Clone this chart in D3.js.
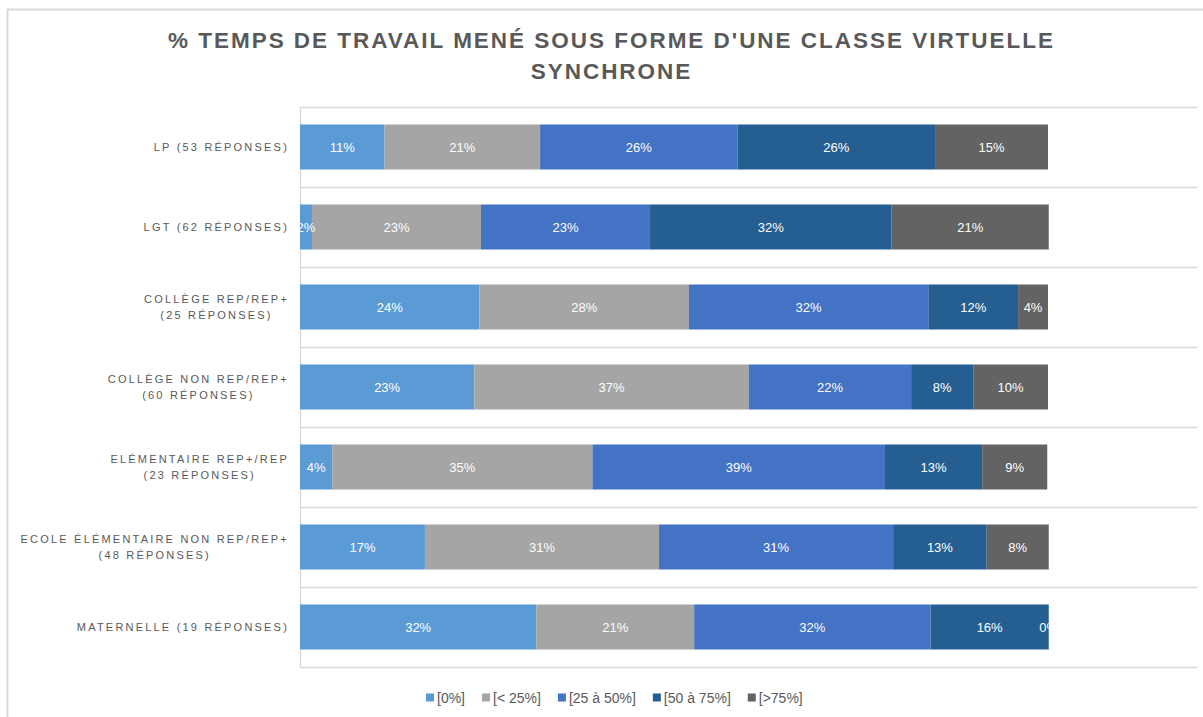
<!DOCTYPE html>
<html>
<head>
<meta charset="utf-8">
<script src="https://cdn.jsdelivr.net/npm/d3@7"></script>
<style>
  html, body { margin: 0; padding: 0; background: #fff; }
  svg { display: block; }
</style>
</head>
<body>
<svg id="chart" width="1203" height="717"></svg>
<script>
// ---- Data ----
const categories = [
  "LP (53 RÉPONSES)",
  "LGT (62 RÉPONSES)",
  "COLLÈGE REP/REP+\n(25 RÉPONSES)",
  "COLLÈGE NON REP/REP+\n(60 RÉPONSES)",
  "ELÉMENTAIRE REP+/REP\n(23 RÉPONSES)",
  "ECOLE ÉLÉMENTAIRE NON REP/REP+\n(48 RÉPONSES)",
  "MATERNELLE (19 RÉPONSES)"
];
const seriesNames = ["[0%]", "[< 25%]", "[25 à 50%]", "[50 à 75%]", "[>75%]"];
const seriesColors = ["#5B9BD5", "#A5A5A5", "#4472C4", "#255E91", "#636363"];
const val0   = [11.3, 1.6, 24, 23.3, 4.3, 16.7, 31.6];
const valLt25 = [20.8, 22.6, 28, 36.7, 34.8, 31.3, 21.1];
const val25_50 = [26.4, 22.6, 32, 21.7, 39.1, 31.3, 31.6];
const val50_75 = [26.4, 32.3, 12, 8.3, 13.0, 12.5, 15.8];
const valGt75 = [15.1, 21.0, 4, 10.0, 8.7, 8.3, 0];
const xMax = 120;
const titleLines = ["% TEMPS DE TRAVAIL MENÉ SOUS FORME D'UNE CLASSE VIRTUELLE", "SYNCHRONE"];

// ---- Build table ----
const seriesValues = [val0, valLt25, val25_50, val50_75, valGt75];
const table = categories.map((c, i) => {
  const row = { cat: c };
  seriesNames.forEach((s, j) => row[s] = seriesValues[j][i]);
  return row;
});
const stacked = d3.stack().keys(seriesNames)(table);

const svg = d3.select("#chart");
const plotL = 300, plotT = 107, plotB = 667;
const x = d3.scaleLinear().domain([0, xMax]).range([plotL, 1197.6]);
const y = d3.scaleBand().domain(categories).range([plotT, plotB])
  .paddingInner(0.4375).paddingOuter(0.21875);
const color = d3.scaleOrdinal().domain(seriesNames).range(seriesColors);

// chart border (top & left)
svg.append("line").attr("x1", 7).attr("x2", 1203).attr("y1", 9.5).attr("y2", 9.5)
  .attr("stroke", "#d9d9d9").attr("stroke-width", 2);
svg.append("line").attr("x1", 7.5).attr("x2", 7.5).attr("y1", 9).attr("y2", 717)
  .attr("stroke", "#d9d9d9").attr("stroke-width", 2);

// title
const title = svg.append("text")
  .attr("text-anchor", "middle")
  .attr("font-family", "'Liberation Sans Narrow', 'Liberation Sans', sans-serif")
  .attr("font-weight", "bold")
  .attr("font-size", 22.5)
  .attr("fill", "#595959");
const tspans = titleLines.map((t, i) =>
  title.append("tspan").attr("x", 611.5).attr("y", 48 + i * 31).text(t));
// letter spacing so that the first line spans ~887px
const w0 = tspans[0].node().getComputedTextLength();
const n0 = titleLines[0].length;
const ls = (887 - w0) / n0;
title.attr("letter-spacing", ls + "px");

// gridlines (category separators)
const step = y.step();
const gridYs = d3.range(categories.length + 1).map(i => plotT + i * step);
svg.append("g").selectAll("line").data(gridYs).join("line")
  .attr("x1", plotL).attr("x2", 1197.6)
  .attr("y1", d => Math.round(d) + 0.5).attr("y2", d => Math.round(d) + 0.5)
  .attr("stroke", "#d9d9d9").attr("stroke-width", 1.3);
svg.append("line").attr("x1", plotL + 0.5).attr("x2", plotL + 0.5)
  .attr("y1", plotT).attr("y2", plotB)
  .attr("stroke", "#d9d9d9").attr("stroke-width", 1.3);

// bars
const groups = svg.append("g").selectAll("g").data(stacked).join("g")
  .attr("fill", d => color(d.key));
groups.selectAll("rect").data(d => d).join("rect")
  .attr("x", d => x(d[0]))
  .attr("y", d => y(d.data.cat))
  .attr("width", d => x(d[1]) - x(d[0]))
  .attr("height", y.bandwidth());

// data labels
const labels = svg.append("g")
  .attr("font-family", "'Liberation Sans', 'Open Sans', sans-serif")
  .attr("font-size", 13)
  .attr("fill", "#ffffff")
  .attr("text-anchor", "middle");
stacked.forEach(s => {
  labels.selectAll(null).data(s).join("text")
    .attr("x", d => (x(d[0]) + x(d[1])) / 2)
    .attr("y", d => y(d.data.cat) + y.bandwidth() / 2 + 4.5)
    .text(d => Math.round(d[1] - d[0]) + "%");
});

// y axis labels
const yLab = svg.append("g")
  .attr("font-family", "'Liberation Sans', sans-serif")
  .attr("font-size", 11)
  .attr("letter-spacing", "2.2px")
  .attr("fill", "#595959");
categories.forEach(c => {
  const lines = c.split("\n");
  const cy = y(c) + y.bandwidth() / 2;
  const texts = lines.map((ln, i) => yLab.append("text")
    .attr("y", cy + 4 + (i - (lines.length - 1) / 2) * 15.5)
    .text(ln));
  const widths = texts.map(t => t.node().getComputedTextLength());
  const maxW = d3.max(widths);
  const right = 289;
  texts.forEach(t => t.attr("text-anchor", "middle").attr("x", right - maxW / 2));
});

// legend
const legendItems = seriesNames.map((s, i) => ({ name: s, color: seriesColors[i] }));
const legend = svg.append("g")
  .attr("font-family", "'Liberation Sans', sans-serif")
  .attr("font-size", 14)
  .attr("fill", "#595959");
let lx = 426;
const ly = 698;
legendItems.forEach(it => {
  legend.append("rect").attr("x", lx).attr("y", ly - 4.5).attr("width", 8).attr("height", 8)
    .attr("fill", it.color);
  const t = legend.append("text").attr("x", lx + 11).attr("y", ly + 5).text(it.name);
  lx += 11 + t.node().getComputedTextLength() + 17;
});
</script>
</body>
</html>
